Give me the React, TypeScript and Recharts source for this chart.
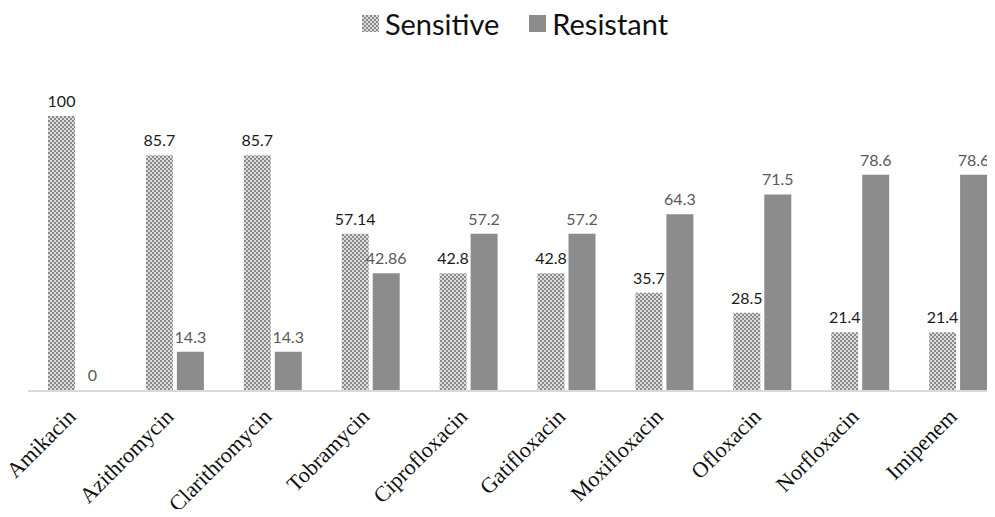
import React from 'react';
import { BarChart, Bar, XAxis, YAxis, Legend, LabelList } from 'recharts';

const drugs = [
  'Amikacin',
  'Azithromycin',
  'Clarithromycin',
  'Tobramycin',
  'Ciprofloxacin',
  'Gatifloxacin',
  'Moxifloxacin',
  'Ofloxacin',
  'Norfloxacin',
  'Imipenem',
];
const sensitive = [100, 85.7, 85.7, 57.14, 42.8, 42.8, 35.7, 28.5, 21.4, 21.4];
const resistant = [0, 14.3, 14.3, 42.86, 57.2, 57.2, 64.3, 71.5, 78.6, 78.6];

const chartData = drugs.map((name, i) => ({
  name,
  sensitive: sensitive[i],
  resistant: resistant[i],
}));

const labelFont = "Lato, 'Open Sans', sans-serif";

const DrugTick = (props: any) => {
  const { x, y, payload } = props;
  return (
    <g transform={`translate(${x},${y + 19})`}>
      <text
        transform="rotate(-45)"
        textAnchor="end"
        fontFamily="'Liberation Serif', 'DejaVu Serif', serif"
        fontSize={22}
        fill="#111"
      >
        {payload.value}
      </text>
    </g>
  );
};

const LegendContent = () => (
  <div
    style={{
      height: 32,
      display: 'flex',
      justifyContent: 'center',
      alignItems: 'center',
      fontFamily: labelFont,
      fontSize: 29,
      color: '#111',
    }}
  >
    <svg width={17} height={17} style={{ marginRight: 6 }}>
      <rect width={17} height={17} fill="url(#checker)" />
    </svg>
    <span style={{ marginRight: 30 }}>Sensitive</span>
    <svg width={17} height={17} style={{ marginRight: 6 }}>
      <rect width={17} height={17} fill="#8c8c8c" />
    </svg>
    <span>Resistant</span>
  </div>
);

export default function App() {
  return (
    <div style={{ margin: -8, width: 995, height: 517, overflow: 'hidden', background: '#fff' }}>
      <BarChart
        width={1030}
        height={517}
        data={chartData}
        margin={{ top: 84, right: 23, bottom: 0, left: 28 }}
        barGap={4}
        barSize={27}
      >
        <defs>
          <pattern id="checker" width={4} height={4} patternUnits="userSpaceOnUse">
            <rect width={4} height={4} fill="#dcdcdc" />
            <rect width={2} height={2} fill="#8a8a8a" />
            <rect x={2} y={2} width={2} height={2} fill="#8a8a8a" />
          </pattern>
        </defs>
        <Legend
          verticalAlign="top"
          content={LegendContent}
          wrapperStyle={{ top: 7, left: 0, width: 1030 }}
        />
        <XAxis
          dataKey="name"
          interval={0}
          tickLine={false}
          axisLine={{ stroke: '#d9d9d9', strokeWidth: 2 }}
          tick={<DrugTick />}
          height={126}
        />
        <YAxis hide domain={[0, 100]} />
        <Bar dataKey="sensitive" fill="url(#checker)" isAnimationActive={false}>
          <LabelList
            dataKey="sensitive"
            position="top"
            offset={9}
            fill="#1a1a1a"
            fontSize={16}
            fontFamily={labelFont}
          />
        </Bar>
        <Bar dataKey="resistant" fill="#8c8c8c" minPointSize={1} isAnimationActive={false}>
          <LabelList
            dataKey="resistant"
            position="top"
            offset={9}
            fill="#595959"
            fontSize={16}
            fontFamily={labelFont}
          />
        </Bar>
      </BarChart>
    </div>
  );
}
